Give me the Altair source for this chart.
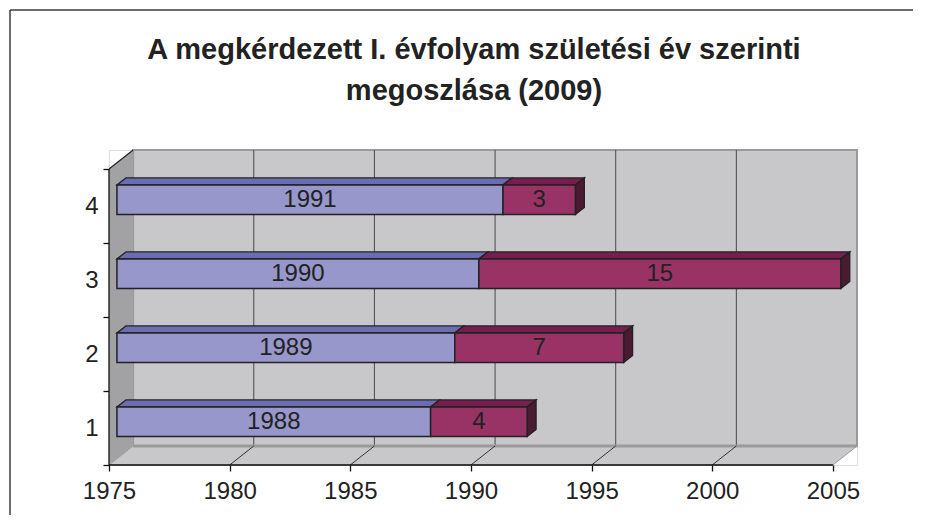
import altair as alt
import pandas as pd

# ---- data ----
categories = [1, 2, 3, 4]
birth_years = [1988, 1989, 1990, 1991]
counts = [4, 7, 15, 3]
x_ticks = [1975, 1980, 1985, 1990, 1995, 2000, 2005]
title_lines = ["A megkérdezett I. évfolyam születési év szerinti", "megoszlása (2009)"]

# ---- 3D style parameters (depth expressed in axis units) ----
X_START, X_END = 1975, 2005
DX = 1.0        # depth of the box in years
DY = 0.2568     # depth of the box in category units
F1, F2 = 0.33, 0.70   # bar front / back depth fraction
H = 0.2         # half bar height (category units)
N = len(categories)

PURPLE, PURPLE_TOP = "#9797CB", "#6C6CB2"
MAROON, MAROON_TOP, MAROON_SIDE = "#993366", "#771D4F", "#4B1A33"
WALL, SIDE_WALL, EDGE = "#C8C8CA", "#A2A2A4", "#9A9A9A"
FONT = "Liberation Sans"

xs = alt.Scale(domain=[X_START, X_END + DX], nice=False, zero=False)
ys = alt.Scale(domain=[0, N + DY], nice=False, zero=False)

def X(f, axis=None, **kw):
    return alt.X(f, type="quantitative", scale=xs, axis=axis, title=None, **kw)

def Y(f, axis=None, **kw):
    return alt.Y(f, type="quantitative", scale=ys, axis=axis, title=None, **kw)

# ---- segments ----
front, top, side = [], [], []
for c, yr, n in zip(categories, birth_years, counts):
    cy = c - 0.5
    segs = [("year", X_START, yr, str(yr)), ("count", yr, yr + n, str(n))]
    for kind, x0, x1, lab in segs:
        sid = f"{c}-{kind}"
        front.append(dict(sid=sid, kind=kind, x0=x0 + F1 * DX, x1=x1 + F1 * DX,
                          y0=cy - H + F1 * DY, y1=cy + H + F1 * DY,
                          xm=(x0 + x1) / 2 + F1 * DX, ym=cy + F1 * DY, label=lab))
        for f in (F1, F2):
            top.append(dict(sid=sid, kind=kind, y=cy + H + f * DY,
                            xa=x0 + f * DX, xb=x1 + f * DX))
        if kind == "count":
            for f in (F1, F2):
                side.append(dict(sid=sid, x=x1 + f * DX,
                                 ya=cy - H + f * DY, yb=cy + H + f * DY))
front = pd.DataFrame(front)
top = pd.DataFrame(top)
side = pd.DataFrame(side)

color_scale = alt.Scale(domain=["year", "count"], range=[PURPLE, MAROON])
top_scale = alt.Scale(domain=["year", "count"], range=[PURPLE_TOP, MAROON_TOP])

# ---- box (walls / floor) ----
back_wall = alt.Chart(pd.DataFrame([dict(x0=X_START + DX, x1=X_END + DX, y0=DY, y1=N + DY)])).mark_rect(
    fill=WALL, stroke=EDGE, strokeWidth=2).encode(x=X("x0"), x2="x1", y=Y("y0"), y2="y1")

side_wall = alt.Chart(pd.DataFrame([dict(x=X_START, ya=0, yb=N), dict(x=X_START + DX, ya=DY, yb=N + DY)])).mark_area(
    fill=SIDE_WALL).encode(x=X("x"), y=Y("ya", stack=None), y2="yb")

floor = alt.Chart(pd.DataFrame([dict(y=0, xa=X_START, xb=X_END), dict(y=DY, xa=X_START + DX, xb=X_END + DX)])).mark_area(
    fill=WALL, orient="horizontal", stroke=EDGE, strokeWidth=1).encode(y=Y("y"), x=X("xa", stack=None), x2="xb")

floor_back = alt.Chart(pd.DataFrame([dict(x0=X_START + DX, x1=X_END + DX, y=DY)])).mark_rule(
    color=EDGE, strokeWidth=3).encode(x=X("x0"), x2="x1", y=Y("y"))

grid_years = x_ticks[1:-1]
grid = alt.Chart(pd.DataFrame(dict(x=[g + DX for g in grid_years], y0=DY, y1=N + DY))).mark_rule(
    color="#4a4a4a", strokeWidth=1).encode(x=X("x"), y=Y("y0"), y2="y1")

diag = alt.Chart(pd.DataFrame(dict(x0=grid_years, x1=[g + DX for g in grid_years], y0=0.0, y1=DY))).mark_rule(
    color="#333333", strokeWidth=1).encode(x=X("x0"), x2="x1", y=Y("y0"), y2="y1")

top_diag = alt.Chart(pd.DataFrame([dict(x0=X_START, x1=X_START + DX, y0=N, y1=N + DY)])).mark_rule(
    color="#222222", strokeWidth=1.2).encode(x=X("x0"), x2="x1", y=Y("y0"), y2="y1")

x_axis_layer = alt.Chart(pd.DataFrame(dict(x=x_ticks, y=0.0))).mark_point(opacity=0).encode(
    x=X("x", axis=alt.Axis(values=x_ticks, format="d", domain=False, grid=False, ticks=True, orient="bottom",
                           tickSize=6, tickColor="#111111", tickWidth=1.3,
                           labelFont=FONT, labelFontSize=24, labelColor="#222222",
                           labelPadding=8, labelFlush=False, labelOverlap=False)),
    y=Y("y"))

front_x_line = alt.Chart(pd.DataFrame([dict(x0=X_START, x1=X_END, y=0.0)])).mark_rule(
    color="#111111", strokeWidth=1.3).encode(x=X("x0"), x2="x1", y=Y("y"))

y_ticks_layer = alt.Chart(pd.DataFrame(dict(y=list(range(N + 1)), x=X_START))).mark_point(opacity=0).encode(
    y=Y("y", axis=alt.Axis(values=list(range(N + 1)), labels=False, domain=False, grid=False,
                           tickSize=6, tickColor="#111111", tickWidth=1.3, orient="left")),
    x=X("x"))

y_labels_layer = alt.Chart(pd.DataFrame(dict(y=[c - 0.5 for c in categories], x=X_START))).mark_point(opacity=0).encode(
    y=Y("y", axis=alt.Axis(values=[c - 0.5 for c in categories], labelExpr="format(datum.value + 0.5, 'd')",
                           domain=False, grid=False, ticks=False, tickSize=0, orient="left",
                           labelFont=FONT, labelFontSize=24, labelColor="#222222", labelPadding=11)),
    x=X("x"))

front_y_line = alt.Chart(pd.DataFrame([dict(x=X_START, y0=0.0, y1=N)])).mark_rule(
    color="#111111", strokeWidth=1.3).encode(x=X("x"), y=Y("y0"), y2="y1")

# ---- bars ----
bar_top = alt.Chart(top).mark_area(orient="horizontal", stroke="#222222", strokeWidth=1.3).encode(
    y=Y("y"), x=X("xa", stack=None), x2="xb", detail="sid:N",
    fill=alt.Fill("kind:N", scale=top_scale, legend=None))

bar_side = alt.Chart(side).mark_area(fill=MAROON_SIDE, stroke="#222222", strokeWidth=1.3).encode(
    x=X("x"), y=Y("ya", stack=None), y2="yb", detail="sid:N")

bar_front = alt.Chart(front).mark_rect(stroke="#222222", strokeWidth=1.5).encode(
    x=X("x0"), x2="x1", y=Y("y0"), y2="y1",
    fill=alt.Fill("kind:N", scale=color_scale, legend=None))

bar_text = alt.Chart(front).mark_text(font=FONT, fontSize=24, color="#222222", baseline="middle").encode(
    x=X("xm"), y=Y("ym"), text="label:N")

# ---- frame (decoration around the whole chart) ----
frame_df = pd.DataFrame({"k": [0]})
frame_left = alt.Chart(frame_df).mark_rule(color="#3c3c3c", strokeWidth=1.5).encode(
    x=alt.value(-99), y=alt.value(-140), y2=alt.value(400))
frame_top = alt.Chart(frame_df).mark_rule(color="#3c3c3c", strokeWidth=1.5).encode(
    x=alt.value(-99), x2=alt.value(900), y=alt.value(-140))

chart = alt.layer(
    back_wall, grid, side_wall, floor, floor_back, diag, top_diag,
    x_axis_layer, front_x_line, y_ticks_layer, y_labels_layer, front_y_line,
    bar_top, bar_side, bar_front, bar_text, frame_left, frame_top,
).resolve_axis(x="independent", y="independent").resolve_scale(fill="independent").properties(
    width=748, height=315,
    title=alt.TitleParams(text=title_lines, font=FONT, fontSize=29, fontWeight="bold", frame="group",
                          color="#222222", lineHeight=41, anchor="middle", dx=-9, offset=-97),
    autosize=alt.AutoSizeParams(type="none"),
    padding={"left": 101, "top": 142, "right": 56, "bottom": 50},
).configure_view(stroke=None).configure(background="white")

chart.save("out.html", embed_options={"renderer": "svg", "actions": False})
